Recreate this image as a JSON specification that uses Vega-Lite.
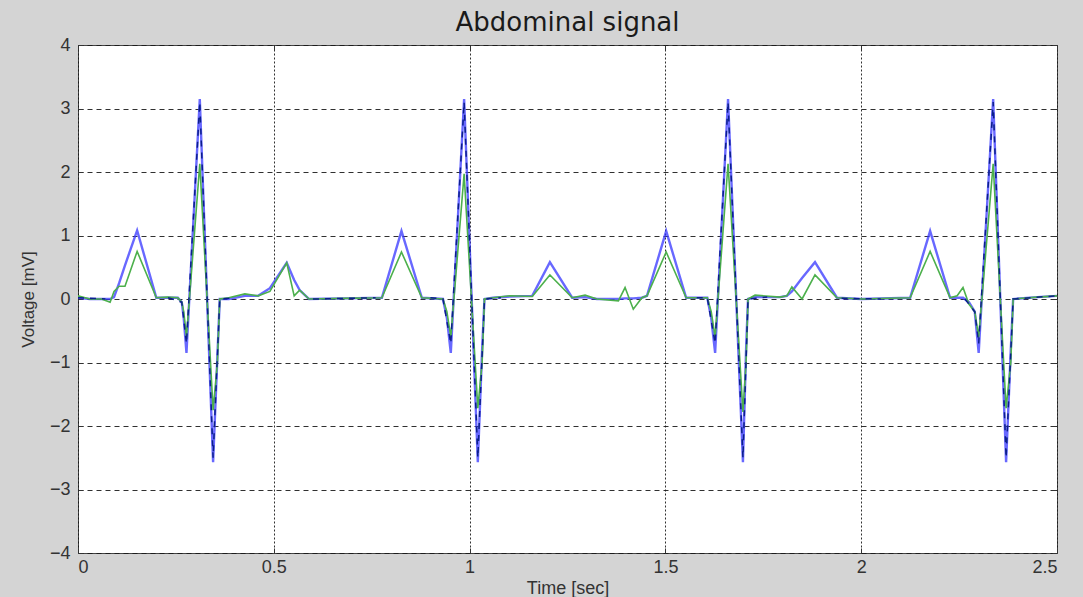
{
  "$schema": "https://vega.github.io/schema/vega-lite/v6.json",
  "width": 979,
  "height": 508,
  "autosize": {"type": "none"},
  "padding": {"left": 78, "top": 45, "right": 26, "bottom": 44},
  "background": "#d4d4d4",
  "title": {"text": "Abdominal signal", "fontSize": 26, "font": "DejaVu Sans", "fontWeight": "normal", "color": "#1a1a1a", "offset": 0, "anchor": "middle"},
  "config": {
    "view": {"fill": "white", "stroke": "#444444", "strokeWidth": 1},
    "axis": {
      "domain": false,
      "labelFont": "Liberation Sans",
      "labelFontSize": 18,
      "labelColor": "#333333",
      "titleFont": "Liberation Sans",
      "titleFontSize": 18,
      "titleFontWeight": "normal",
      "titleColor": "#333333",
      "tickColor": "#333333",
      "tickSize": -5,
      "gridColor": "#1a1a1a",
      "gridOpacity": 0.9,
      "gridWidth": 1
    }
  },
  "datasets": {
    "sig": [
      {"t": 0.0, "b": 0.02, "g": 0.05},
      {"t": 0.03, "b": 0.0, "g": 0.0},
      {"t": 0.06, "b": 0.0, "g": 0.0},
      {"t": 0.082, "b": 0.0, "g": -0.05},
      {"t": 0.092, "b": 0.03, "g": 0.12},
      {"t": 0.105, "b": 0.25, "g": 0.2},
      {"t": 0.12, "b": 0.53, "g": 0.2},
      {"t": 0.151, "b": 1.08, "g": 0.75},
      {"t": 0.2, "b": 0.02, "g": 0.02},
      {"t": 0.23, "b": 0.02, "g": 0.03},
      {"t": 0.255, "b": 0.02, "g": 0.02},
      {"t": 0.265, "b": -0.05, "g": -0.05},
      {"t": 0.27, "b": -0.3, "g": -0.2},
      {"t": 0.277, "b": -0.85, "g": -0.6},
      {"t": 0.311, "b": 3.15, "g": 2.13},
      {"t": 0.345, "b": -2.57, "g": -1.75},
      {"t": 0.356, "b": -0.9, "g": -1.0},
      {"t": 0.362, "b": 0.0, "g": 0.0},
      {"t": 0.385, "b": 0.0, "g": 0.02},
      {"t": 0.426, "b": 0.05, "g": 0.08},
      {"t": 0.46, "b": 0.05, "g": 0.05},
      {"t": 0.49, "b": 0.17, "g": 0.12},
      {"t": 0.533, "b": 0.57, "g": 0.57},
      {"t": 0.552, "b": 0.3, "g": 0.05},
      {"t": 0.566, "b": 0.14, "g": 0.14},
      {"t": 0.59, "b": 0.0, "g": 0.0},
      {"t": 0.68, "b": 0.01, "g": 0.01},
      {"t": 0.776, "b": 0.02, "g": 0.02},
      {"t": 0.826, "b": 1.07, "g": 0.74},
      {"t": 0.878, "b": 0.02, "g": 0.02},
      {"t": 0.932, "b": 0.0, "g": 0.0},
      {"t": 0.942, "b": -0.3, "g": -0.2},
      {"t": 0.952, "b": -0.85, "g": -0.6},
      {"t": 0.986, "b": 3.15, "g": 1.97},
      {"t": 1.021, "b": -2.57, "g": -1.72},
      {"t": 1.032, "b": -0.8, "g": -1.0},
      {"t": 1.038, "b": 0.0, "g": 0.0},
      {"t": 1.06, "b": 0.02, "g": 0.02},
      {"t": 1.103, "b": 0.04, "g": 0.05},
      {"t": 1.16, "b": 0.05, "g": 0.04},
      {"t": 1.205, "b": 0.58, "g": 0.38},
      {"t": 1.262, "b": 0.02, "g": 0.02},
      {"t": 1.295, "b": 0.03, "g": 0.06},
      {"t": 1.325, "b": 0.0, "g": 0.0},
      {"t": 1.38, "b": 0.0, "g": -0.03},
      {"t": 1.397, "b": 0.01, "g": 0.18},
      {"t": 1.418, "b": 0.01, "g": -0.16},
      {"t": 1.44, "b": 0.02, "g": 0.02},
      {"t": 1.453, "b": 0.05, "g": 0.05},
      {"t": 1.502, "b": 1.07, "g": 0.74},
      {"t": 1.553, "b": 0.02, "g": 0.02},
      {"t": 1.607, "b": 0.02, "g": 0.02},
      {"t": 1.617, "b": -0.3, "g": -0.2},
      {"t": 1.627, "b": -0.85, "g": -0.6},
      {"t": 1.66, "b": 3.15, "g": 2.13},
      {"t": 1.698, "b": -2.57, "g": -1.78},
      {"t": 1.706, "b": -0.8, "g": -1.0},
      {"t": 1.711, "b": 0.0, "g": 0.0},
      {"t": 1.729, "b": 0.03, "g": 0.06},
      {"t": 1.793, "b": 0.03, "g": 0.03},
      {"t": 1.81, "b": 0.05, "g": 0.05},
      {"t": 1.823, "b": 0.12, "g": 0.19},
      {"t": 1.849, "b": 0.33, "g": 0.0},
      {"t": 1.882, "b": 0.58, "g": 0.38},
      {"t": 1.938, "b": 0.02, "g": 0.02},
      {"t": 2.0, "b": 0.0, "g": 0.0},
      {"t": 2.125, "b": 0.02, "g": 0.02},
      {"t": 2.176, "b": 1.07, "g": 0.75},
      {"t": 2.227, "b": 0.02, "g": 0.02},
      {"t": 2.245, "b": 0.02, "g": 0.05},
      {"t": 2.26, "b": 0.02, "g": 0.18},
      {"t": 2.275, "b": -0.05, "g": -0.08},
      {"t": 2.29, "b": -0.2, "g": -0.2},
      {"t": 2.3, "b": -0.85, "g": -0.6},
      {"t": 2.337, "b": 3.15, "g": 2.13},
      {"t": 2.37, "b": -2.57, "g": -1.72},
      {"t": 2.382, "b": -0.8, "g": -1.0},
      {"t": 2.388, "b": 0.0, "g": 0.0},
      {"t": 2.45, "b": 0.03, "g": 0.03},
      {"t": 2.5, "b": 0.05, "g": 0.05}
    ],
    "dash": [
      {"t": 0.0, "v": 0.02, "seg": 1},
      {"t": 0.07, "v": 0.0, "seg": 1},
      {"t": 0.23, "v": 0.02, "seg": 2},
      {"t": 0.265, "v": -0.05, "seg": 2},
      {"t": 0.277, "v": -0.7, "seg": 2},
      {"t": 0.311, "v": 3.1, "seg": 2},
      {"t": 0.345, "v": -2.5, "seg": 2},
      {"t": 0.362, "v": 0.0, "seg": 2},
      {"t": 0.4, "v": 0.02, "seg": 2},
      {"t": 0.6, "v": 0.0, "seg": 3},
      {"t": 0.76, "v": 0.02, "seg": 3},
      {"t": 0.9, "v": 0.02, "seg": 4},
      {"t": 0.932, "v": 0.0, "seg": 4},
      {"t": 0.952, "v": -0.7, "seg": 4},
      {"t": 0.986, "v": 3.1, "seg": 4},
      {"t": 1.021, "v": -2.5, "seg": 4},
      {"t": 1.038, "v": 0.0, "seg": 4},
      {"t": 1.08, "v": 0.02, "seg": 4},
      {"t": 1.58, "v": 0.02, "seg": 5},
      {"t": 1.607, "v": 0.02, "seg": 5},
      {"t": 1.627, "v": -0.7, "seg": 5},
      {"t": 1.66, "v": 3.1, "seg": 5},
      {"t": 1.698, "v": -2.5, "seg": 5},
      {"t": 1.711, "v": 0.0, "seg": 5},
      {"t": 1.76, "v": 0.03, "seg": 5},
      {"t": 1.95, "v": 0.01, "seg": 6},
      {"t": 2.05, "v": 0.0, "seg": 6},
      {"t": 2.265, "v": 0.0, "seg": 7},
      {"t": 2.29, "v": -0.2, "seg": 7},
      {"t": 2.3, "v": -0.7, "seg": 7},
      {"t": 2.337, "v": 3.1, "seg": 7},
      {"t": 2.37, "v": -2.5, "seg": 7},
      {"t": 2.388, "v": 0.0, "seg": 7},
      {"t": 2.5, "v": 0.05, "seg": 7}
    ]
  },
  "resolve": {"axis": {"x": "independent", "y": "independent"}},
  "layer": [
    {
      "data": {"name": "sig"},
      "mark": {"type": "line", "color": "#3535ff", "opacity": 0.75, "strokeWidth": 2.4, "clip": true},
      "encoding": {
        "x": {"field": "t", "type": "quantitative", "scale": {"domain": [0, 2.5], "nice": false},
          "axis": {"orient": "bottom", "title": "Time [sec]", "values": [0, 0.5, 1, 1.5, 2, 2.5], "format": "~g", "grid": true, "gridDash": [2, 2], "labelPadding": 10, "titlePadding": 3}},
        "y": {"field": "b", "type": "quantitative", "scale": {"domain": [-4, 4], "nice": false},
          "axis": {"orient": "left", "title": "Voltage [mV]", "values": [-4, -3, -2, -1, 0, 1, 2, 3, 4], "grid": true, "gridDash": [5, 4], "labelPadding": 13, "titlePadding": 12, "titleFontSize": 17}}
      }
    },
    {
      "data": {"name": "sig"},
      "mark": {"type": "line", "color": "#4cb04c", "strokeWidth": 1.6, "clip": true},
      "encoding": {
        "x": {"field": "t", "type": "quantitative", "axis": {"orient": "top", "values": [0, 0.5, 1, 1.5, 2, 2.5], "labels": false, "title": null, "grid": false}},
        "y": {"field": "g", "type": "quantitative", "axis": {"orient": "right", "values": [-4, -3, -2, -1, 0, 1, 2, 3, 4], "labels": false, "title": null, "grid": false}}
      }
    },
    {
      "data": {"name": "dash"},
      "mark": {"type": "line", "color": "#0c1f8c", "strokeWidth": 1.5, "strokeDash": [6, 6], "clip": true},
      "encoding": {
        "x": {"field": "t", "type": "quantitative", "axis": null},
        "y": {"field": "v", "type": "quantitative", "axis": null},
        "detail": {"field": "seg", "type": "nominal"}
      }
    }
  ]
}
